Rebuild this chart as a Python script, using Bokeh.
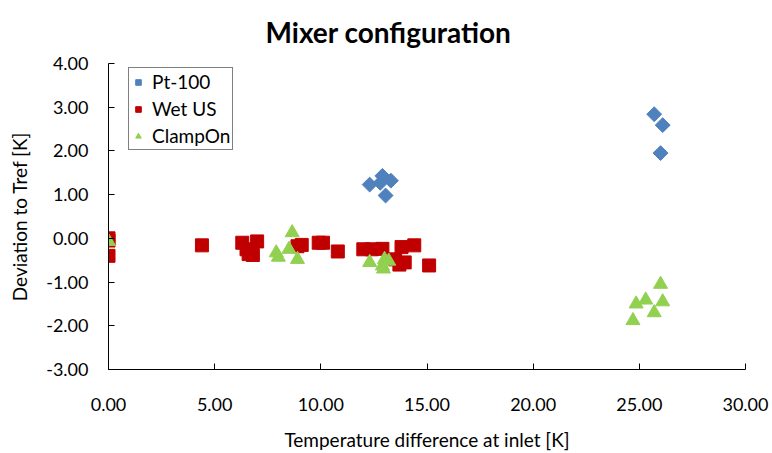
import math
from bokeh.plotting import figure
from bokeh.models import Range1d, NumeralTickFormatter, FixedTicker, Legend, LegendItem
from bokeh.embed import file_html
from bokeh.resources import INLINE

# Data
pt_x = [12.3, 12.8, 12.9, 13.3, 13.05, 25.7, 26.1, 26.0]
pt_y = [1.23, 1.27, 1.43, 1.32, 0.98, 2.84, 2.59, 1.95]

wet_x = [0.0, 0.0, 0.0, 4.4, 6.3, 6.5, 6.6, 6.8, 7.0, 8.9, 9.1, 9.9, 10.1, 10.8,
         12.0, 12.4, 12.9, 13.5, 13.7, 13.8, 13.95, 14.4, 15.1]
wet_y = [0.0, -0.05, -0.4, -0.16, -0.1, -0.25, -0.36, -0.38, -0.07, -0.18, -0.15, -0.1, -0.1, -0.3,
         -0.25, -0.25, -0.24, -0.48, -0.6, -0.2, -0.55, -0.16, -0.62]

clamp_x = [0.0, 7.9, 8.0, 8.5, 8.65, 8.9, 12.3, 12.9, 12.95, 13.0, 13.2,
           24.7, 24.85, 25.3, 25.7, 26.0, 26.1]
clamp_y = [-0.07, -0.33, -0.43, -0.25, 0.13, -0.48, -0.55, -0.63, -0.7, -0.48, -0.52,
           -1.88, -1.5, -1.41, -1.7, -1.05, -1.45]

x_ticks = [0, 5, 10, 15, 20, 25, 30]
y_ticks = [-3, -2, -1, 0, 1, 2, 3, 4]
title_text = "Mixer configuration"

FONT = "Lato"

p = figure(width=772, height=453, output_backend="svg", toolbar_location=None,
           x_range=Range1d(0, 30), y_range=Range1d(-3, 4),
           min_border_left=108, min_border_right=27, min_border_top=63, min_border_bottom=83)

p.title.text = title_text
p.title.align = "left"
p.title.offset = 157
p.title.vertical_align = "top"
p.title.standoff = 26
p.title.text_font = FONT
p.title.text_font_size = "28px"
p.title.text_font_style = "bold"
p.title.text_color = "black"

p.outline_line_color = None
p.xgrid.visible = False
p.ygrid.visible = False

for ax in (p.xaxis[0], p.yaxis[0]):
    ax.axis_line_color = "black"
    ax.axis_line_width = 1
    ax.major_tick_line_color = "black"
    ax.major_tick_in = 6
    ax.major_tick_out = 0
    ax.minor_tick_line_color = None
    ax.major_label_text_font = FONT
    ax.major_label_text_font_size = "18px"
    ax.major_label_text_color = "black"
    ax.axis_label_text_font = FONT
    ax.axis_label_text_font_size = "19px"
    ax.axis_label_text_font_style = "normal"
    ax.axis_label_text_color = "black"
    ax.formatter = NumeralTickFormatter(format="0.00")

p.xaxis.ticker = FixedTicker(ticks=x_ticks)
p.yaxis.ticker = FixedTicker(ticks=y_ticks)
p.xaxis.axis_label = "Temperature difference at inlet [K]"
p.yaxis.axis_label = "Deviation to Tref [K]"
p.xaxis.major_label_standoff = 28
p.yaxis.major_label_standoff = 20
p.xaxis.axis_label_standoff = 14
p.yaxis.axis_label_standoff = 12

r_pt = p.scatter(pt_x, pt_y, marker="square", angle=math.pi / 4, size=10.5,
                 fill_color="#4F81BD", line_color="#4F81BD")
r_wet = p.scatter(wet_x, wet_y, marker="square", size=13, fill_color="#C00000", line_color="#C00000")
r_cl = p.scatter(clamp_x, clamp_y, marker="triangle", size=14, fill_color="#92D050", line_color="#92D050")

legend = Legend(items=[LegendItem(label="Pt-100", renderers=[r_pt]),
                       LegendItem(label="Wet US", renderers=[r_wet]),
                       LegendItem(label="ClampOn", renderers=[r_cl])],
                location=(20, 219))
legend.label_text_font = FONT
legend.label_text_font_size = "19px"
legend.label_text_color = "black"
legend.border_line_color = "black"
legend.border_line_width = 1
legend.background_fill_alpha = 1
legend.glyph_width = 14
legend.glyph_height = 14
legend.label_height = 22
legend.label_standoff = 7
legend.spacing = 4
legend.padding = 2
legend.margin = 0
p.add_layout(legend, "center")

open("out.html", "w").write(file_html(p, INLINE))
